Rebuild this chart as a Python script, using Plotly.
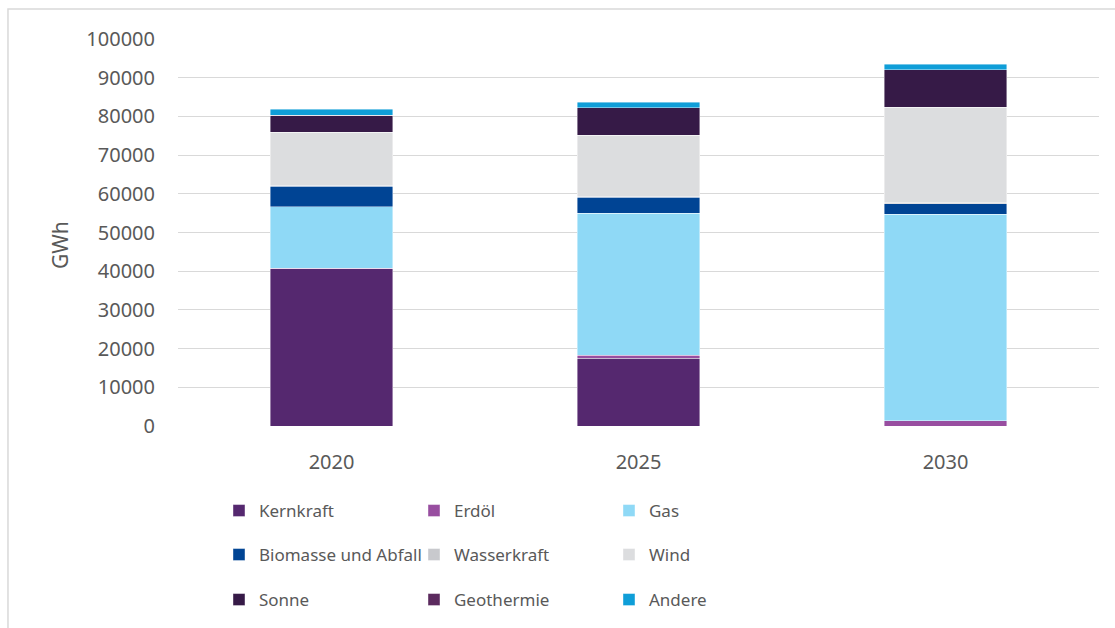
import plotly.graph_objects as go

# years on the x axis
years = ["2020", "2025", "2030"]

# GWh per source, stacked bottom -> top
kernkraft = [40600, 17500, 0]
erdoel = [100, 800, 1400]
gas = [16000, 36700, 53300]
biomasse = [5200, 4100, 2700]
wasserkraft = [300, 300, 300]
wind = [13700, 15700, 24700]
sonne = [4400, 7100, 9600]
geothermie = [0, 0, 0]
andere = [1500, 1500, 1500]

series = [
    ("Kernkraft", kernkraft, "#55286f", "legend"),
    ("Erdöl", erdoel, "#984ea0", "legend"),
    ("Gas", gas, "#8fd9f6", "legend"),
    ("Biomasse und Abfall", biomasse, "#004494", "legend2"),
    ("Wasserkraft", wasserkraft, "#c8c9cd", "legend2"),
    ("Wind", wind, "#dcdddf", "legend2"),
    ("Sonne", sonne, "#361a47", "legend3"),
    ("Geothermie", geothermie, "#5b2a5e", "legend3"),
    ("Andere", andere, "#0f9ed8", "legend3"),
]

fig = go.Figure()
for name, vals, color, leg in series:
    fig.add_trace(go.Bar(
        x=years, y=vals, name=name, legend=leg,
        marker=dict(color=color, line=dict(color="rgba(255,255,255,0.6)", width=0.7)),
    ))

font_color = "#595959"
leg_common = dict(orientation="h", x=0.0445, xanchor="left", yanchor="middle",
                  traceorder="normal",
                  entrywidth=150, entrywidthmode="pixels",
                  font=dict(size=17, color=font_color), bgcolor="rgba(0,0,0,0)")

fig.update_layout(
    width=1115, height=628,
    barmode="stack",
    bargap=0.6,
    margin=dict(l=178, r=16, t=39, b=202, autoexpand=False),
    paper_bgcolor="white",
    plot_bgcolor="white",
    font=dict(family="Noto Sans", size=18, color=font_color),
    yaxis=dict(range=[0, 100000], dtick=10000, showgrid=True, gridcolor="#d9d9d9",
               gridwidth=1.3, zeroline=False, showline=False, ticks="",
               ticklabelstandoff=22, tickfont=dict(size=20), tickformat="d"),
    xaxis=dict(showgrid=False, showline=False, zeroline=False, ticks="",
               ticklabelstandoff=22, tickfont=dict(size=20)),
    legend=dict(y=-0.2196, **leg_common),
    legend2=dict(y=-0.3333, **leg_common),
    legend3=dict(y=-0.4496, **leg_common),
    annotations=[dict(text="GWh", xref="paper", yref="paper", x=-0.128, y=0.468,
                      xanchor="center", yanchor="middle",
                      textangle=-90, showarrow=False, font=dict(size=21, color=font_color))],
    shapes=[dict(type="path", xref="paper", yref="paper",
                 path="M -0.1846,-0.7 L -0.1846,1.0775 L 1.03,1.0775",
                 line=dict(color="#d9d9d9", width=1.5))],
    showlegend=True,
)

# drop the browser's default body margin so the figure sits at the page corner
fig.write_html("out.html", config={"displayModeBar": False},
               post_script="document.body.style.margin='0';")
